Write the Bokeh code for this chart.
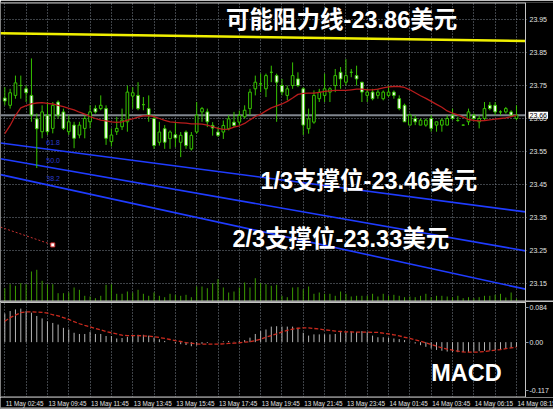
from bokeh.plotting import figure
from bokeh.models import Range1d, LinearAxis, FixedTicker, Grid, Span, Label
from bokeh.layouts import column
from bokeh.embed import file_html
from bokeh.resources import INLINE
from bokeh.core.properties import value

# ---------------- data: 15-minute silver bars ----------------
opens = [23.712, 23.690, 23.720, 23.750, 23.740, 23.720, 23.649, 23.610, 23.660, 23.620,
         23.700, 23.670, 23.610, 23.630, 23.600, 23.620, 23.640, 23.680, 23.680, 23.680,
         23.580, 23.610, 23.625, 23.640, 23.718, 23.720, 23.692, 23.680, 23.650, 23.578,
         23.619, 23.589, 23.601, 23.578, 23.609, 23.558, 23.609, 23.670, 23.670, 23.629,
         23.609, 23.609, 23.619, 23.639, 23.639, 23.655, 23.680, 23.740, 23.755, 23.740,
         23.790, 23.780, 23.750, 23.720, 23.750, 23.770, 23.740, 23.619, 23.639, 23.710,
         23.720, 23.730, 23.750, 23.790, 23.760, 23.790, 23.780, 23.760, 23.720, 23.730,
         23.720, 23.710, 23.720, 23.730, 23.710, 23.690, 23.630, 23.650, 23.630, 23.630,
         23.650, 23.630, 23.630, 23.630, 23.660, 23.644, 23.630, 23.640, 23.660, 23.640,
         23.650, 23.690, 23.690, 23.670, 23.670, 23.670, 23.650]
highs = [23.745, 23.740, 23.780, 23.780, 23.750, 23.832, 23.665, 23.690, 23.700, 23.700,
         23.705, 23.680, 23.660, 23.640, 23.640, 23.660, 23.690, 23.690, 23.720, 23.690,
         23.620, 23.655, 23.680, 23.750, 23.745, 23.760, 23.715, 23.720, 23.660, 23.640,
         23.630, 23.614, 23.640, 23.609, 23.614, 23.609, 23.700, 23.685, 23.680, 23.639,
         23.624, 23.644, 23.660, 23.670, 23.674, 23.690, 23.740, 23.780, 23.786, 23.786,
         23.810, 23.786, 23.770, 23.750, 23.820, 23.790, 23.745, 23.680, 23.735, 23.740,
         23.786, 23.745, 23.800, 23.806, 23.830, 23.800, 23.810, 23.760, 23.740, 23.740,
         23.740, 23.735, 23.750, 23.735, 23.720, 23.695, 23.665, 23.660, 23.650, 23.650,
         23.660, 23.640, 23.650, 23.660, 23.680, 23.655, 23.632, 23.680, 23.665, 23.660,
         23.700, 23.700, 23.700, 23.675, 23.685, 23.675, 23.690]
lows = [23.690, 23.680, 23.710, 23.710, 23.700, 23.640, 23.500, 23.590, 23.600, 23.605,
        23.650, 23.615, 23.600, 23.560, 23.590, 23.590, 23.620, 23.665, 23.675, 23.570,
        23.565, 23.600, 23.615, 23.610, 23.680, 23.675, 23.675, 23.640, 23.558, 23.568,
        23.558, 23.558, 23.563, 23.533, 23.558, 23.553, 23.604, 23.640, 23.624, 23.598,
        23.594, 23.588, 23.614, 23.624, 23.629, 23.650, 23.660, 23.720, 23.730, 23.715,
        23.760, 23.640, 23.720, 23.705, 23.740, 23.745, 23.600, 23.604, 23.634, 23.700,
        23.700, 23.700, 23.730, 23.740, 23.750, 23.775, 23.750, 23.700, 23.700, 23.705,
        23.710, 23.705, 23.715, 23.710, 23.675, 23.640, 23.630, 23.630, 23.630, 23.625,
        23.610, 23.610, 23.610, 23.630, 23.645, 23.640, 23.628, 23.630, 23.645, 23.620,
        23.645, 23.675, 23.660, 23.660, 23.665, 23.655, 23.645]
closes = [23.703, 23.728, 23.758, 23.750, 23.728, 23.660, 23.619, 23.670, 23.610, 23.690,
          23.660, 23.620, 23.640, 23.590, 23.630, 23.650, 23.670, 23.670, 23.690, 23.590,
          23.600, 23.620, 23.645, 23.730, 23.728, 23.680, 23.692, 23.660, 23.568, 23.609,
          23.578, 23.609, 23.591, 23.599, 23.568, 23.599, 23.660, 23.680, 23.640, 23.621,
          23.599, 23.629, 23.649, 23.629, 23.659, 23.675, 23.730, 23.760, 23.755, 23.780,
          23.790, 23.760, 23.730, 23.740, 23.780, 23.750, 23.630, 23.649, 23.720, 23.730,
          23.740, 23.740, 23.780, 23.770, 23.780, 23.790, 23.770, 23.730, 23.730, 23.710,
          23.730, 23.730, 23.730, 23.720, 23.680, 23.640, 23.660, 23.640, 23.645, 23.645,
          23.620, 23.640, 23.645, 23.650, 23.650, 23.644, 23.630, 23.670, 23.650, 23.650,
          23.680, 23.680, 23.670, 23.670, 23.680, 23.660, 23.660]
ma_values = [23.604, 23.629, 23.659, 23.682, 23.689, 23.694, 23.697, 23.698, 23.696, 23.694,
             23.690, 23.686, 23.681, 23.676, 23.669, 23.663, 23.656, 23.650, 23.645, 23.643,
             23.640, 23.638, 23.640, 23.645, 23.649, 23.654, 23.658, 23.659, 23.656, 23.650,
             23.644, 23.640, 23.638, 23.637, 23.636, 23.634, 23.634, 23.633, 23.630, 23.625,
             23.620, 23.617, 23.618, 23.624, 23.628, 23.635, 23.646, 23.656, 23.663, 23.673,
             23.682, 23.688, 23.694, 23.702, 23.712, 23.723, 23.726, 23.727, 23.727, 23.729,
             23.732, 23.734, 23.735, 23.735, 23.735, 23.737, 23.739, 23.739, 23.737, 23.737,
             23.739, 23.743, 23.746, 23.747, 23.747, 23.744, 23.737, 23.728, 23.719, 23.711,
             23.702, 23.693, 23.684, 23.673, 23.666, 23.661, 23.654, 23.647, 23.644, 23.643,
             23.644, 23.646, 23.648, 23.650, 23.652, 23.656, 23.660]
volumes = [133, 173, 157, 183, 173, 300, 317, 207, 173, 173,
           83, 83, 90, 140, 117, 57, 50, 33, 57, 167,
           173, 77, 77, 100, 90, 117, 77, 57, 90, 57,
           43, 77, 67, 57, 67, 43, 150, 150, 133, 183,
           223, 140, 90, 100, 140, 190, 140, 233, 183, 173,
           157, 167, 57, 43, 140, 143, 123, 150, 77, 90,
           77, 77, 57, 100, 77, 50, 57, 57, 57, 77,
           50, 77, 57, 67, 57, 43, 50, 43, 57, 77,
           43, 57, 57, 50, 43, 57, 33, 43, 33, 43,
           57, 57, 67, 77, 40, 90, 30]
macd_hist = [0.070, 0.076, 0.080, 0.082, 0.076, 0.072, 0.064, 0.058, 0.051, 0.047,
             0.043, 0.035, 0.031, 0.023, 0.020, 0.020, 0.025, 0.020, 0.020, 0.015,
             0.015, 0.009, 0.010, 0.013, 0.016, 0.018, 0.018, 0.016, 0.011, 0.007,
             0.003, 0.000, -0.003, -0.005, -0.007, -0.010, -0.008, -0.004, -0.002, 0.000,
             0.001, 0.002, 0.003, 0.001, 0.003, 0.005, 0.011, 0.020, 0.027, 0.031,
             0.038, 0.039, 0.038, 0.038, 0.038, 0.035, 0.023, 0.016, 0.019, 0.019,
             0.019, 0.019, 0.020, 0.0245, 0.0245, 0.026, 0.0245, 0.027, 0.0245, 0.016,
             0.012, 0.012, 0.0106, 0.009, 0.0074, 0.005, 0.0016, -0.0033, -0.0074, -0.0114,
             -0.0155, -0.019, -0.021, -0.023, -0.0237, -0.0245, -0.0245, -0.0237, -0.023, -0.022,
             -0.021, -0.0204, -0.0196, -0.018, -0.016, -0.014, -0.012]
macd_signal = [0.051, 0.060, 0.066, 0.072, 0.074, 0.074, 0.0735, 0.073, 0.071, 0.067,
               0.0645, 0.060, 0.0555, 0.050, 0.045, 0.041, 0.0375, 0.0335, 0.030, 0.026,
               0.023, 0.020, 0.017, 0.016, 0.016, 0.016, 0.0155, 0.0147, 0.013, 0.0114,
               0.009, 0.0065, 0.004, 0.0016, -0.001, -0.0025, -0.004, -0.005, -0.005, -0.005,
               -0.005, -0.004, -0.003, -0.0025, -0.0016, 0.000, 0.001, 0.004, 0.0075, 0.012,
               0.016, 0.020, 0.025, 0.029, 0.032, 0.034, 0.035, 0.035, 0.0335, 0.032,
               0.030, 0.029, 0.027, 0.026, 0.025, 0.025, 0.0245, 0.0245, 0.0245, 0.024,
               0.0237, 0.022, 0.020, 0.018, 0.0155, 0.012, 0.009, 0.0057, 0.0025, -0.0016,
               -0.0057, -0.0098, -0.014, -0.017, -0.0196, -0.022, -0.024, -0.0245, -0.0245, -0.024,
               -0.023, -0.021, -0.0196, -0.018, -0.016, -0.014, -0.012]
date_labels = ["11 May 02:45", "13 May 09:45", "13 May 11:45", "13 May 13:45",
               "13 May 15:45", "13 May 17:45", "13 May 19:45", "13 May 21:45",
               "13 May 23:45", "14 May 01:45", "14 May 03:45", "14 May 06:15",
               "14 May 08:15"]
price_ticks = [23.15, 23.25, 23.35, 23.45, 23.55, 23.65, 23.75, 23.85, 23.95]
macd_ticks = [0.084, 0.0, -0.117]
last_price = 23.66

# drawn levels: start / end price across the visible window
resistance = [23.908, 23.885]
channel_618 = [23.576, 23.367]
channel_500 = [23.528, 23.249]
channel_382 = [23.480, 23.133]
fib_names = ["61.8", "50.0", "38.2"]
stub_prices = [23.321, 23.267]
stub_end_bar = 9

bars = list(range(len(closes)))
label_bars = bars[::8]
grid_bars = bars[::4]

# ---------------- geometry ----------------
BAR_PX = 5.33
FIRST_BAR_PX = 4.3
PANE_W = 525
SCALE_W = 28
x_lo = -FIRST_BAR_PX / BAR_PX
x_hi = x_lo + PANE_W / BAR_PX
x_page = x_lo + (PANE_W + SCALE_W) / BAR_PX
x_tick = x_hi + 3 / BAR_PX

BG = "black"
GRID = "#8a949e"
FG = "#e2e2e2"
CANDLE = "#36c200"
VOLUME = "#3c9c00"
FRAME = "#c4c4c4"
BLUE = "#1f3cff"
BIG_FONT = "'Liberation Sans', 'Noto Sans CJK SC', sans-serif"
SMALL_FONT = "Liberation Sans"


def pane(**kw):
    p = figure(output_backend="svg", toolbar_location=None,
               x_axis_location=None, y_axis_location=None,
               background_fill_color=BG, border_fill_color=BG,
               outline_line_color=None, min_border_left=0, **kw)
    p.xgrid.grid_line_color = None
    p.ygrid.grid_line_color = None
    return p


def vertical_grid(p):
    p.add_layout(Grid(dimension=0, ticker=FixedTicker(ticks=grid_bars),
                      grid_line_color=GRID, grid_line_dash="1 2",
                      grid_line_alpha=0.9))


def on_line(level, x):
    return level[0] + (level[1] - level[0]) * (x - x_lo) / (x_hi - x_lo)


# ---------------- price pane (its price scale is drawn inside the frame) ----------------
main = pane(frame_width=PANE_W + SCALE_W, frame_height=299, min_border_right=0,
            min_border_top=2, min_border_bottom=0,
            x_range=Range1d(x_lo, x_page), y_range=Range1d(23.0955, 24.0015))
main.extra_y_ranges = {"vol": Range1d(0, 2990)}
vertical_grid(main)
n_ticks = len(price_ticks)
main.segment(x0=[x_lo] * n_ticks, y0=price_ticks, x1=[x_tick] * n_ticks, y1=price_ticks,
             line_color=GRID, line_dash="1 2", line_alpha=0.9, line_width=1)
main.add_layout(Span(location=x_hi, dimension="height", line_color=FRAME, line_width=1))
main.text(x=[x_hi] * n_ticks, y=price_ticks, text=[f"{t:.2f}" for t in price_ticks],
          x_offset=4, text_align="left", text_baseline="middle",
          text_color=FG, text_font_size="7px", text_font=value(SMALL_FONT))

main.segment(x0=[x_lo], y0=[last_price], x1=[x_hi], y1=[last_price],
             line_color="#80868e", line_width=2)

main.segment(x0=bars, y0=0, x1=bars, y1=volumes, y_range_name="vol",
             line_color=VOLUME, line_width=1)

main.line([x_lo, x_hi], resistance, line_color="#f0f000", line_width=2.5)
for level in (channel_618, channel_500, channel_382):
    main.line([x_lo, x_hi], level, line_color=BLUE, line_width=1.6)

fib_x = 7.8
main.text(x=[fib_x] * 3,
          y=[on_line(lv, fib_x) for lv in (channel_618, channel_500, channel_382)],
          text=fib_names, text_align="left", text_baseline="middle", y_offset=-6,
          text_color="#2a3ccc", text_font_size="7px", text_font=value(SMALL_FONT))

main.line([x_lo, stub_end_bar], stub_prices, line_color="#c83232",
          line_dash="2 2", line_width=1)
main.scatter([stub_end_bar], [stub_prices[1]], marker="square", size=4,
             fill_color="white", line_color="#d03030")

# candles: wick first, then the body on top
main.segment(x0=bars, y0=lows, x1=bars, y1=highs, line_color=CANDLE, line_width=1)
up = [i for i in bars if closes[i] >= opens[i]]
down = [i for i in bars if closes[i] < opens[i]]
main.vbar(x=up, width=0.5, top=[closes[i] for i in up], bottom=[opens[i] for i in up],
          fill_color="black", line_color=CANDLE, line_width=1)
main.vbar(x=down, width=0.5, top=[opens[i] for i in down], bottom=[closes[i] for i in down],
          fill_color="white", line_color=CANDLE, line_width=1)

main.line(bars, ma_values, line_color="#b81c1c", line_width=1.3)

main.add_layout(Label(x=x_hi, y=last_price, x_offset=3, text=f"{last_price:.2f}",
                      text_align="left", text_baseline="middle", text_color="black",
                      text_font=SMALL_FONT, text_font_size="7px",
                      background_fill_color="white", padding=1))

for txt, x, y in (("可能阻力线-23.86美元", 63.2, 23.947),
                  ("1/3支撑位-23.46美元", 68.3, 23.462),
                  ("2/3支撑位-23.33美元", 63.05, 23.286)):
    main.add_layout(Label(x=x, y=y, text=txt, text_align="center",
                          text_baseline="middle", text_color="white",
                          text_font=BIG_FONT, text_font_size="23.5px",
                          text_font_style="bold"))

main.segment(x0=[x_lo], y0=[24.0015], x1=[x_hi], y1=[24.0015], line_color=FRAME, line_width=2)
main.add_layout(Span(location=23.0955, dimension="width", line_color=FRAME, line_width=2))

# ---------------- MACD pane ----------------
macd = pane(frame_width=PANE_W, frame_height=96, min_border_right=SCALE_W,
            min_border_top=0, min_border_bottom=0,
            x_range=Range1d(x_lo, x_hi), y_range=Range1d(-0.1353, 0.0994))
vertical_grid(macd)
macd.add_layout(LinearAxis(ticker=FixedTicker(ticks=macd_ticks), axis_line_color=FRAME,
                           major_tick_line_color=GRID, major_tick_out=3, major_tick_in=0,
                           minor_tick_line_color=None, major_label_standoff=1,
                           major_label_text_color=FG, major_label_text_font_size="7px",
                           major_label_text_font=SMALL_FONT,
                           major_label_overrides={0.084: "0.084", 0.0: "0.00",
                                                  -0.117: "-0.117"}), "right")
macd.segment(x0=bars, y0=0, x1=bars, y1=macd_hist, line_color="#b4b4b4", line_width=1)
macd.line(bars, macd_signal, line_color="#cc2a1e", line_dash="4 2", line_width=1.3)
macd.add_layout(Label(x=86.6, y=-0.0753, text="MACD", text_align="center",
                      text_baseline="middle", text_color="white",
                      text_font=BIG_FONT, text_font_size="23.5px", text_font_style="bold"))
macd.add_layout(Span(location=0.0994, dimension="width", line_color=FRAME, line_width=3))
macd.add_layout(Span(location=-0.1353, dimension="width", line_color=FRAME, line_width=2))

# ---------------- time strip ----------------
dates = pane(frame_width=PANE_W + SCALE_W, frame_height=12, min_border_right=0,
             min_border_top=0, min_border_bottom=0,
             x_range=Range1d(x_lo, x_page), y_range=Range1d(0, 12))
dates.text(x=label_bars, y=[6.3] * len(label_bars), text=date_labels,
           text_align="left", text_baseline="middle", x_offset=1,
           text_color=FG, text_font_size="6.3px", text_font=value(SMALL_FONT))
dates.add_layout(Span(location=1.3, dimension="width", line_color=FRAME, line_width=1.3))

layout = column(main, macd, dates, spacing=0)
open("out.html", "w").write(file_html(layout, INLINE))
